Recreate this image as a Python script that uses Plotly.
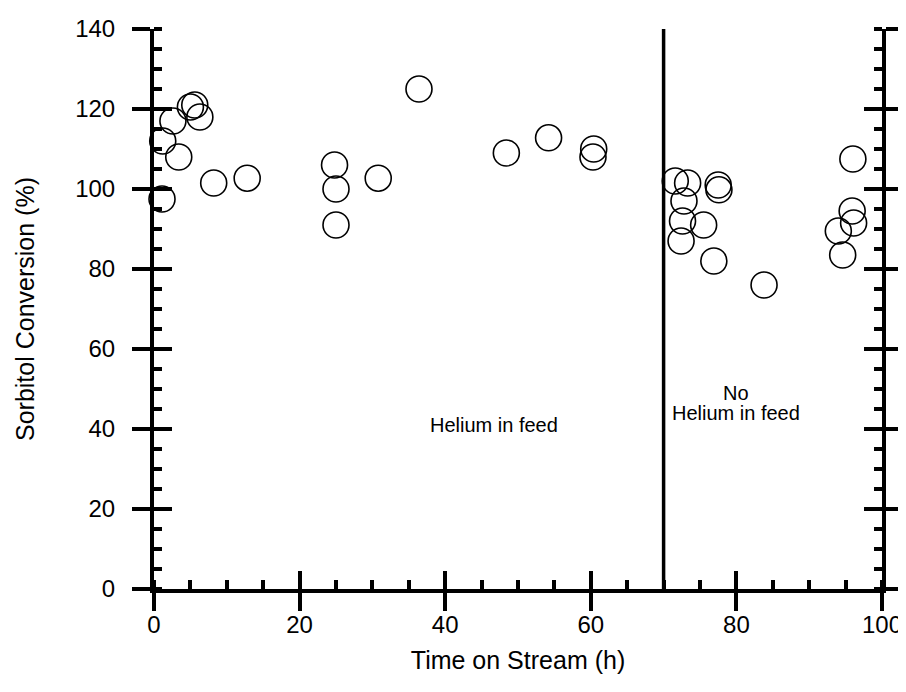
import plotly.graph_objects as go

# Data
time_h = [1.2, 1.1, 2.6, 3.4, 5.0, 5.6, 6.3, 8.2, 12.8,
          24.8, 25.0, 25.0, 30.8, 36.4, 48.4, 54.2, 60.4, 60.3,
          71.6, 73.3, 72.8, 72.6, 72.4, 75.5, 77.5, 77.6, 76.9, 83.8,
          96.0, 95.9, 96.1, 94.0, 94.6]
conversion = [112, 97.5, 117, 108, 120.5, 121, 118, 101.5, 102.7,
              106, 100, 91, 102.7, 125, 109, 112.8, 110, 108,
              102, 101.5, 97, 92, 87, 91, 101, 99.8, 82, 76,
              107.5, 94.5, 91.5, 89.5, 83.5]
switch_time = 70
x_ticks = [0, 20, 40, 60, 80, 100]
y_ticks = [0, 20, 40, 60, 80, 100, 120, 140]
x_title = "Time on Stream (h)"
y_title = "Sorbitol Conversion (%)"
label_he = "Helium in feed"
label_no = "No"
label_no_he = "Helium in feed"

FONT = "Arial, Liberation Sans, sans-serif"

fig = go.Figure()
fig.add_trace(go.Scatter(
    x=time_h, y=conversion, mode="markers",
    marker=dict(symbol="circle-open", size=26, color="black",
                line=dict(width=1.6, color="black")),
    showlegend=False, cliponaxis=False))

# invisible trace on the overlay axes so they are rendered
fig.add_trace(go.Scatter(x=[None], y=[None], xaxis="x2", yaxis="y2",
                         showlegend=False, hoverinfo="skip"))

fig.add_vline(x=switch_time, line=dict(color="black", width=3.5))

ann_font = dict(size=20, family=FONT, color="black")
fig.add_annotation(x=46.7, y=41, text=label_he, showarrow=False, font=ann_font)
fig.add_annotation(x=80, y=49, text=label_no, showarrow=False, font=ann_font)
fig.add_annotation(x=80, y=44, text=label_no_he, showarrow=False, font=ann_font)

axis_common = dict(showgrid=False, zeroline=False, linecolor="black",
                   tickcolor="black", automargin=False)
fig.update_layout(
    template="none",
    width=898, height=666,
    margin=dict(l=146, r=24, t=21, b=85),
    paper_bgcolor="white", plot_bgcolor="white",
    font=dict(family=FONT, color="black", size=25),
    xaxis=dict(**axis_common, range=[0, 100], tickvals=x_ticks,
               showline=True, linewidth=4, ticks="outside", ticklen=18,
               tickwidth=4, ticklabelstandoff=-7,
               minor=dict(ticks="inside", dtick=5, ticklen=9, tickwidth=4,
                          tickcolor="black"),
               title=dict(text=x_title, font=dict(size=25), standoff=20),
               tickfont=dict(size=24)),
    yaxis=dict(**axis_common, range=[0, 140], tickvals=y_ticks,
               showline=True, linewidth=4, mirror="allticks",
               ticks="outside", ticklen=18, tickwidth=4,
               ticklabelstandoff=12,
               minor=dict(ticks="inside", dtick=5, ticklen=8, tickwidth=4,
                          tickcolor="black"),
               title=dict(text=y_title, font=dict(size=25), standoff=34),
               tickfont=dict(size=24)),
    xaxis2=dict(**axis_common, overlaying="x", side="bottom", range=[0, 100],
                tickvals=x_ticks, ticks="inside", ticklen=18, tickwidth=4,
                showticklabels=False, showline=False),
    yaxis2=dict(**axis_common, overlaying="y", side="left", range=[0, 140],
                tickvals=y_ticks, ticks="inside", ticklen=18, tickwidth=4,
                mirror="allticks", showticklabels=False, showline=False),
)

fig.write_html("out.html")
